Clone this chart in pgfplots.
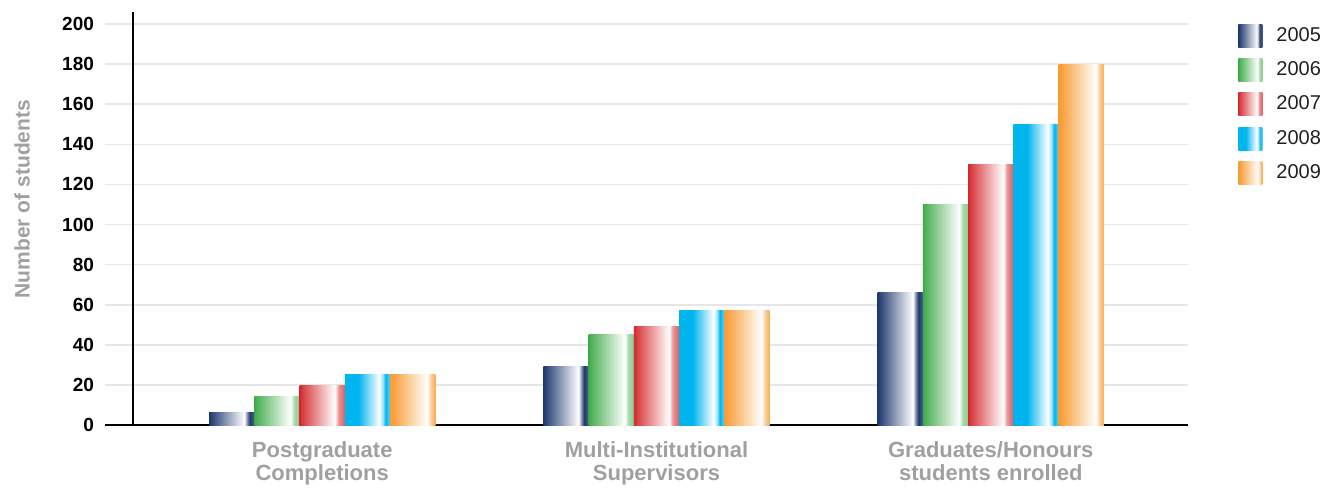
\documentclass[border=0pt]{standalone}
\usepackage{fontspec}
\setmainfont{Liberation Sans}
\usepackage{pgfplots}
\pgfplotsset{compat=1.18}

\definecolor{c05}{RGB}{30,56,110}
\definecolor{c06}{RGB}{62,170,72}
\definecolor{c07}{RGB}{212,40,44}
\definecolor{c08}{RGB}{0,180,238}
\definecolor{c09}{RGB}{248,156,52}
\definecolor{labgray}{RGB}{160,160,162}
\definecolor{gridgray}{RGB}{230,230,230}
\definecolor{txt}{RGB}{35,31,32}

\pgfdeclarehorizontalshading{s05}{100bp}{color(0bp)=(c05); color(25bp)=(c05); color(29bp)=(c05!90!white); color(64bp)=(white); color(67bp)=(c05!55!white); color(70bp)=(c05); color(75bp)=(c05!80!white); color(100bp)=(c05!80!white)}
\pgfdeclarehorizontalshading{s06}{100bp}{color(0bp)=(c06); color(25bp)=(c06); color(28bp)=(c06!90!white); color(65bp)=(white); color(69bp)=(c06!45!white); color(75bp)=(c06!60!white); color(100bp)=(c06!60!white)}
\pgfdeclarehorizontalshading{s07}{100bp}{color(0bp)=(c07); color(25bp)=(c07); color(28bp)=(c07!90!white); color(64bp)=(white); color(68bp)=(c07!50!white); color(75bp)=(c07!75!white); color(100bp)=(c07!75!white)}
\pgfdeclarehorizontalshading{s08}{100bp}{color(0bp)=(c08); color(25bp)=(c08); color(40bp)=(c08); color(63bp)=(white); color(67bp)=(c08!40!white); color(70bp)=(c08); color(75bp)=(c08!60!white); color(100bp)=(c08!60!white)}
\pgfdeclarehorizontalshading{s09}{100bp}{color(0bp)=(c09); color(25bp)=(c09); color(28bp)=(c09!95!white); color(66bp)=(white); color(70bp)=(c09!50!white); color(75bp)=(c09!85!white); color(100bp)=(c09!85!white)}

\pgfplotsset{
  sqleg/.style={legend image code/.code={\path[shading=#1] (0pt,-5.75pt) rectangle (12pt,5.75pt);}},
  b05/.style={draw=none, shading=s05, sqleg=s05, bar shift=-0.2708},
  b06/.style={draw=none, shading=s06, sqleg=s06, bar shift=-0.1354},
  b07/.style={draw=none, shading=s07, sqleg=s07, bar shift=0},
  b08/.style={draw=none, shading=s08, sqleg=s08, bar shift=0.1354},
  b09/.style={draw=none, shading=s09, sqleg=s09, bar shift=0.2708},
}

\begin{document}
\begin{tikzpicture}
\useasboundingbox (0,0) rectangle (669pt,244.5pt);
\begin{axis}[
  at={(66.5pt,32pt)}, anchor=south west,
  scale only axis, width=527.5pt, height=206.5pt,
  xmin=-0.566, xmax=2.59, ymin=0, ymax=206,
  ybar, bar width=0.1354,
  axis lines=left, axis line style={-, black, line width=1.2pt},
  xtick={0,1,2},
  xticklabels={{Postgraduate\\Completions},{Multi-Institutional\\Supervisors},{Graduates/Honours\\students enrolled}},
  xticklabel style={align=center, font=\fontsize{11}{11.5}\selectfont\bfseries, text=labgray, yshift=-4.5pt},
  x tick style={draw=none},
  xtick align=inside,
  ytick={20,40,...,200},
  extra y ticks={0},
  extra y tick style={grid=none, y tick style={black, line width=1pt}},
  ymajorgrids, major grid style={gridgray, line width=0.8pt},
  ytick align=outside, major tick length=14pt,
  y tick style={gridgray, line width=0.8pt},
  yticklabel style={font=\fontsize{9.5}{10}\selectfont\bfseries, text=black, xshift=-2pt},
  /pgf/number format/assume math mode=true,
  ylabel={Number of students},
  ylabel style={at={(axis description cs:-0.105,0.547)}, anchor=center, font=\fontsize{10.5}{11}\selectfont\bfseries, text=labgray},
  legend style={at={(axis description cs:1.0474,0.974)}, anchor=north west, draw=none, fill=none,
    font=\fontsize{10}{11}\selectfont, text=txt, row sep=4.7pt, inner sep=0pt,
    /tikz/every odd column/.append style={column sep=5pt}},
  legend cell align=left,
]
% legend carriers: first group
\addplot[b05] coordinates {(0,6)};
\addplot[b06] coordinates {(0,14)};
\addplot[b07] coordinates {(0,19.5)};
\addplot[b08] coordinates {(0,25)};
\addplot[b09] coordinates {(0,25)};
\legend{2005,2006,2007,2008,2009}
% Multi-Institutional Supervisors
\addplot[b05, forget plot] coordinates {(1,29)};
\addplot[b06, forget plot] coordinates {(1,45)};
\addplot[b07, forget plot] coordinates {(1,49)};
\addplot[b08, forget plot] coordinates {(1,57)};
\addplot[b09, forget plot] coordinates {(1,57)};
% Graduates/Honours students enrolled
\addplot[b05, forget plot] coordinates {(2,66)};
\addplot[b06, forget plot] coordinates {(2,110)};
\addplot[b07, forget plot] coordinates {(2,130)};
\addplot[b08, forget plot] coordinates {(2,150)};
\addplot[b09, forget plot] coordinates {(2,180)};
\end{axis}
\end{tikzpicture}
\end{document}
